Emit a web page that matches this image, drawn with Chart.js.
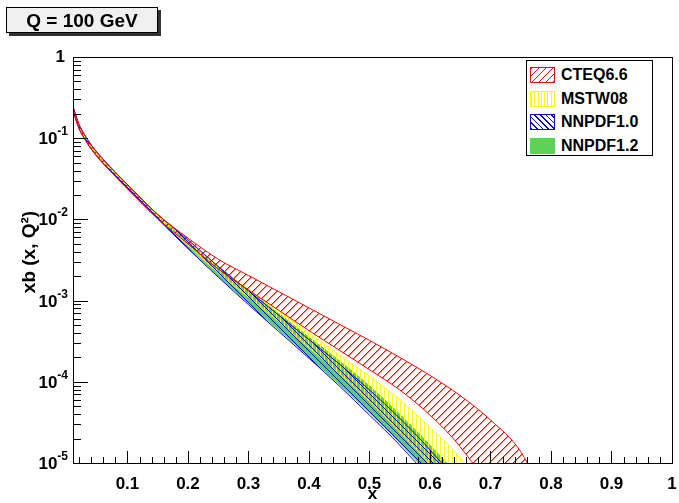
<!DOCTYPE html>
<html>
<head>
<meta charset="utf-8">
<script src="https://cdn.jsdelivr.net/npm/chart.js@4.4.1/dist/chart.umd.min.js"></script>
<style>
  body { margin: 0; background: #fff; font-family: "Liberation Sans", Arial, sans-serif; }
  #wrap { position: relative; width: 679px; height: 503px; }
  #c { position: absolute; left: 0; top: 0; }
  #title { position: absolute; left: 6px; top: 7px; width: 150px; height: 24px; border: 1px solid #000;
           background: #f0f0f0; box-shadow: 3px 3px 0 #333; font-weight: bold; font-size: 19px;
           line-height: 25px; text-align: center; }
  #legend { position: absolute; left: 526px; top: 60px; width: 125px; height: 94px; border: 1px solid #000; background: #fff; }
  .row { position: absolute; left: 3px; height: 16px; font-weight: bold; font-size: 16px; }
  .sw { position: absolute; left: 0; top: 0; width: 23px; height: 14px; border: 1px solid; }
  .lab { position: absolute; left: 31px; top: -1px; line-height: 18px; white-space: nowrap; }
</style>
</head>
<body>
<div id="wrap">
  <canvas id="c" width="679" height="503"></canvas>
  <div id="title">Q = 100 GeV</div>
  <div id="legend"></div>
</div>
<script>
// x grid shared by all bands
const xGrid = [0.01, 0.015, 0.02, 0.03, 0.04, 0.05, 0.07, 0.1, 0.15, 0.2, 0.25, 0.3, 0.35, 0.4, 0.45, 0.5, 0.55, 0.6, 0.65, 0.7, 0.75, 0.8];

// band edges, xb(x,Q^2)
const cteqUp = [0.245, 0.186, 0.146, 0.107, 0.0822, 0.0661, 0.0452, 0.0266, 0.0115, 5.89e-3, 3.24e-3, 2.04e-3, 1.29e-3, 8.13e-4, 5.13e-4, 3.24e-4, 2.00e-4, 1.20e-4, 6.76e-5, 3.39e-5, 1.38e-5, 2.51e-6];
const cteqLo = [0.219, 0.166, 0.130, 0.0955, 0.0733, 0.0589, 0.0403, 0.0237, 0.0102, 5.01e-3, 2.45e-3, 1.35e-3, 7.59e-4, 4.27e-4, 2.45e-4, 1.41e-4, 7.94e-5, 3.89e-5, 1.58e-5, 4.47e-6, 6.31e-7, 1e-7];
const mstwUp = [0.240, 0.182, 0.143, 0.105, 0.0804, 0.0646, 0.0442, 0.0260, 0.0111, 5.50e-3, 2.63e-3, 1.38e-3, 7.59e-4, 3.98e-4, 2.14e-4, 1.17e-4, 6.03e-5, 2.75e-5, 1.15e-5, 3.16e-6, 6.31e-7, 1e-7];
const mstwLo = [0.224, 0.170, 0.133, 0.0977, 0.0750, 0.0603, 0.0412, 0.0243, 0.0104, 4.79e-3, 2.19e-3, 1.10e-3, 5.50e-4, 2.63e-4, 1.26e-4, 5.75e-5, 2.40e-5, 9.55e-6, 3.16e-6, 6.31e-7, 1e-7, 3e-8];
const nnpdf10Up = [0.248, 0.188, 0.148, 0.108, 0.0832, 0.0668, 0.0457, 0.0269, 0.0115, 5.62e-3, 2.63e-3, 1.32e-3, 6.61e-4, 3.31e-4, 1.66e-4, 7.94e-5, 3.55e-5, 1.45e-5, 5.01e-6, 1e-6, 1e-7, 3e-8];
const nnpdf10Lo = [0.221, 0.168, 0.132, 0.0966, 0.0741, 0.0596, 0.0407, 0.0240, 0.0101, 4.37e-3, 1.95e-3, 8.91e-4, 4.17e-4, 1.95e-4, 8.91e-5, 3.89e-5, 1.66e-5, 6.31e-6, 2.00e-6, 5.01e-7, 1e-7, 3e-8];
const nnpdf12Up = [0.243, 0.184, 0.145, 0.106, 0.0813, 0.0653, 0.0447, 0.0263, 0.0112, 5.50e-3, 2.63e-3, 1.35e-3, 6.92e-4, 3.55e-4, 1.82e-4, 8.91e-5, 3.98e-5, 1.66e-5, 6.31e-6, 1.58e-6, 1e-7, 3e-8];
const nnpdf12Lo = [0.226, 0.172, 0.135, 0.0989, 0.0759, 0.0610, 0.0417, 0.0245, 0.0105, 4.57e-3, 2.00e-3, 9.33e-4, 4.37e-4, 2.04e-4, 9.33e-5, 4.17e-5, 1.78e-5, 6.92e-6, 2.51e-6, 6.31e-7, 1e-7, 3e-8];

const setNames = ["CTEQ6.6", "MSTW08", "NNPDF1.0", "NNPDF1.2"];
const xTickLabels = ["0.1", "0.2", "0.3", "0.4", "0.5", "0.6", "0.7", "0.8", "0.9", "1"];
const yTickExps = [0, -1, -2, -3, -4, -5];

const FONT = '"Liberation Sans", Arial, sans-serif';
const colors = { cteq: "#ff0000", mstw: "#ffff00", nn10: "#0000ff", nn12: "#59d454" };

// hatch tiles, ROOT-like fill styles
function hatch(kind, color, n) {
    const c = document.createElement("canvas");
    c.width = n; c.height = n;
    const g = c.getContext("2d");
    g.fillStyle = color;
    for (let i = 0; i < n; i++) {
        if (kind === "vert") {
            g.fillRect(0, i, 1, 1);
        } else if (kind === "fwd") {            // "/"
            g.globalAlpha = 1;
            g.fillRect(i, n - 1 - i, 1, 1);
            g.globalAlpha = 0.5;
            g.fillRect((i + 1) % n, n - 1 - i, 1, 1);
        } else {                                // "\"
            g.fillRect(i, i, 1, 1);
        }
    }
    return g.createPattern(c, "repeat");
}

function band(name, up, lo, color, bg) {
    const pts = arr => xGrid.map((x, i) => ({ x: x, y: arr[i] }));
    const common = { borderColor: color, borderWidth: 1, pointRadius: 0, cubicInterpolationMode: "monotone" };
    return [
        Object.assign({ label: name, data: pts(up), fill: "+1", backgroundColor: bg }, common),
        Object.assign({ label: name + " low", data: pts(lo), fill: false, backgroundColor: bg }, common)
    ];
}

// first listed = drawn on top
const datasets = [].concat(
    band(setNames[0], cteqUp, cteqLo, colors.cteq, hatch("fwd", colors.cteq, 8)),
    band(setNames[2], nnpdf10Up, nnpdf10Lo, colors.nn10, hatch("back", colors.nn10, 6)),
    band(setNames[1], mstwUp, mstwLo, colors.mstw, hatch("vert", colors.mstw, 4)),
    band(setNames[3], nnpdf12Up, nnpdf12Lo, colors.nn12, colors.nn12)
);

const rootAxes = {
    id: "rootAxes",
    afterDraw(chart) {
        const ctx = chart.ctx, a = chart.chartArea;
        const xs = chart.scales.x, ys = chart.scales.y;
        ctx.save();
        ctx.strokeStyle = "#000";
        ctx.lineWidth = 1;
        ctx.strokeRect(Math.round(a.left) + 0.5, Math.round(a.top) + 0.5, Math.round(a.right - a.left), Math.round(a.bottom - a.top));

        // x ticks, inward
        ctx.beginPath();
        for (let i = 1; i <= 50; i++) {
            const px = Math.round(xs.getPixelForValue(i / 50)) + 0.5;
            const len = i % 5 === 0 ? 12 : 6;
            ctx.moveTo(px, a.bottom);
            ctx.lineTo(px, a.bottom - len);
        }
        // y ticks, inward
        for (let d = -5; d <= 0; d++) {
            for (let k = 1; k <= 9; k++) {
                if (d === 0 && k > 1) break;
                const py = Math.round(ys.getPixelForValue(k * Math.pow(10, d))) + 0.5;
                const len = k === 1 ? 15 : 8;
                ctx.moveTo(a.left, py);
                ctx.lineTo(a.left + len, py);
            }
        }
        ctx.stroke();

        ctx.fillStyle = "#000";
        // x labels
        ctx.font = "bold 17px " + FONT;
        ctx.textAlign = "center";
        ctx.textBaseline = "middle";
        xTickLabels.forEach(t => {
            ctx.fillText(t, xs.getPixelForValue(parseFloat(t)), a.bottom + 21);
        });
        ctx.fillText("x", (a.left + a.right) / 2, 494);

        // y labels with exponents
        ctx.textAlign = "right";
        const rx = a.left - 5;
        yTickExps.forEach(d => {
            const py = ys.getPixelForValue(Math.pow(10, d));
            if (d === 0) {
                ctx.font = "bold 17px " + FONT;
                ctx.textBaseline = "middle";
                ctx.fillText("1", rx - 3, py);
                return;
            }
            ctx.textBaseline = "alphabetic";
            ctx.font = "bold 12px " + FONT;
            const e = String(d);
            const ew = ctx.measureText(e).width;
            ctx.fillText(e, rx, py - 3);
            ctx.font = "bold 17px " + FONT;
            ctx.fillText("10", rx - ew, py + 6);
        });

        // y title
        ctx.translate(30, 252);
        ctx.rotate(-Math.PI / 2);
        ctx.textAlign = "center";
        ctx.textBaseline = "middle";
        ctx.font = "bold 19px " + FONT;
        ctx.fillText("xb (x, Q\u00B2)", 0, 0);
        ctx.restore();
    }
};

new Chart(document.getElementById("c"), {
    type: "line",
    data: { datasets: datasets },
    options: {
        responsive: false,
        animation: false,
        devicePixelRatio: 1,
        layout: { padding: { left: 73, top: 57, right: 7, bottom: 40 } },
        plugins: { legend: { display: false }, tooltip: { enabled: false } },
        scales: {
            x: {
                type: "linear", min: 0.01, max: 1,
                ticks: { display: false }, grid: { display: false }, border: { display: false },
                afterFit: s => { s.height = 0; }
            },
            y: {
                type: "logarithmic", min: 1e-5, max: 1,
                ticks: { display: false }, grid: { display: false }, border: { display: false },
                afterFit: s => { s.width = 0; }
            }
        }
    },
    plugins: [rootAxes]
});

// legend box
const legendStyles = [
    { border: colors.cteq, bg: "repeating-linear-gradient(-45deg, #ff0000 0 1px, #fff 1px 5px)" },
    { border: colors.mstw, bg: "repeating-linear-gradient(90deg, #ffff00 0 1px, #fff 1px 3.3px)" },
    { border: colors.nn10, bg: "repeating-linear-gradient(45deg, #0000ff 0 1px, #fff 1px 4px)" },
    { border: colors.nn12, bg: colors.nn12 }
];
const legend = document.getElementById("legend");
setNames.forEach((name, i) => {
    const row = document.createElement("div");
    row.className = "row";
    row.style.top = (6 + i * 23.5) + "px";
    const sw = document.createElement("div");
    sw.className = "sw";
    sw.style.borderColor = legendStyles[i].border;
    sw.style.background = legendStyles[i].bg;
    const lab = document.createElement("div");
    lab.className = "lab";
    lab.textContent = name;
    row.appendChild(sw);
    row.appendChild(lab);
    legend.appendChild(row);
});
</script>
</body>
</html>
